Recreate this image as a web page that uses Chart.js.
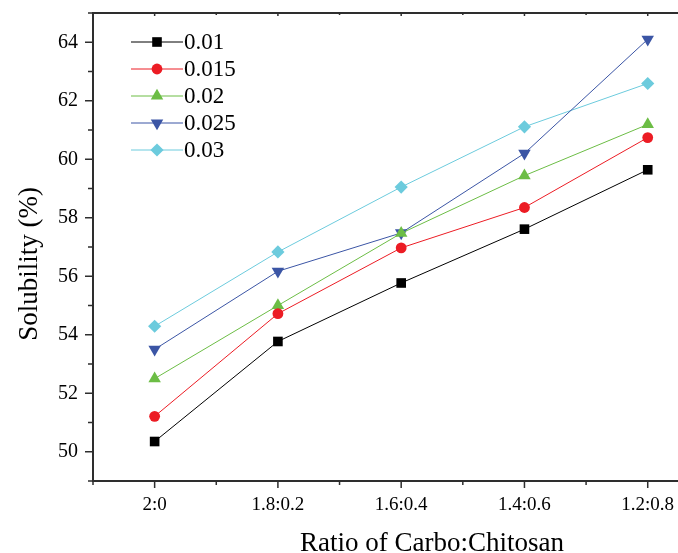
<!DOCTYPE html>
<html>
<head>
<meta charset="utf-8">
<script src="https://cdn.jsdelivr.net/npm/chart.js@4/dist/chart.umd.min.js"></script>
<style>
html, body { margin: 0; padding: 0; overflow: hidden; background: #fff; }
#wrap { width: 780px; height: 553px; }
</style>
</head>
<body>
<div id="wrap"><canvas id="solChart" width="780" height="553"></canvas></div>
<script>
// carbo:chitosan ratios along the x axis
var ratios = ['2:0', '1.8:0.2', '1.6:0.4', '1.4:0.6', '1.2:0.8'];

// solubility (%) for each concentration
var sol001 = [50.35, 53.77, 55.77, 57.61, 59.64];
var sol0015 = [51.21, 54.72, 56.97, 58.35, 60.74];
var sol002 = [52.50, 55.00, 57.47, 59.44, 61.19];
var sol0025 = [53.50, 56.17, 57.48, 60.20, 64.10];
var sol003 = [54.29, 56.83, 59.05, 61.11, 62.59];

var seriesNames = ['0.01', '0.015', '0.02', '0.025', '0.03'];
var yLabels = [50, 52, 54, 56, 58, 60, 62, 64];

var FONT = "'Liberation Serif', 'Times New Roman', serif";
var AXIS_COLOR = '#2e2e2e';

function series(label, values, color, style, radius, rotation) {
    return {
        label: label,
        data: values.map(function (v, i) { return { x: i, y: v }; }),
        borderColor: color,
        backgroundColor: color,
        borderWidth: 1,
        pointStyle: style,
        pointRadius: radius,
        pointRotation: rotation || 0,
        pointBackgroundColor: color,
        pointBorderColor: color,
        pointBorderWidth: 0,
        tension: 0
    };
}

var datasets = [
    series(seriesNames[0], sol001, '#000000', 'rect', 6.8),
    series(seriesNames[1], sol0015, '#ec1c24', 'circle', 5.4),
    series(seriesNames[2], sol002, '#6cbd45', 'triangle', 7.2),
    series(seriesNames[3], sol0025, '#3b55a5', 'triangle', 7.2, 180),
    series(seriesNames[4], sol003, '#6ccbdd', 'rectRot', 6.6)
];

// frame, tick marks, axis titles and legend
var decorPlugin = {
    id: 'decor',
    afterDraw: function (chart) {
        var ctx = chart.ctx;
        var area = chart.chartArea;
        var xs = chart.scales.x;
        var ys = chart.scales.y;
        ctx.save();

        ctx.strokeStyle = AXIS_COLOR;
        ctx.lineWidth = 2;
        ctx.beginPath();
        ctx.moveTo(area.right, area.top);
        ctx.lineTo(area.left, area.top);
        ctx.lineTo(area.left, area.bottom);
        ctx.lineTo(area.right, area.bottom);
        ctx.stroke();

        ctx.lineWidth = 1.5;
        ctx.beginPath();
        xs.ticks.forEach(function (t) {
            var px = xs.getPixelForValue(t.value);
            var major = Number.isInteger(t.value);
            ctx.moveTo(px, area.bottom);
            ctx.lineTo(px, area.bottom + (major ? 7 : 4));
            ctx.moveTo(px, area.top);
            ctx.lineTo(px, area.top + (major ? 3 : 2));
        });
        ys.ticks.forEach(function (t) {
            var py = ys.getPixelForValue(t.value);
            var major = t.value % 2 === 0;
            ctx.moveTo(area.left, py);
            ctx.lineTo(area.left - (major ? 8 : 5), py);
        });
        ctx.stroke();

        // axis titles
        ctx.fillStyle = '#000';
        ctx.font = '27px ' + FONT;
        ctx.textAlign = 'center';
        ctx.textBaseline = 'alphabetic';
        ctx.fillText('Ratio of Carbo:Chitosan', (area.left + area.right) / 2, area.bottom + 70);
        ctx.save();
        ctx.translate(30, (area.top + area.bottom) / 2 + 17);
        ctx.rotate(-Math.PI / 2);
        ctx.textBaseline = 'middle';
        ctx.fillText('Solubility (%)', 0, 0);
        ctx.restore();

        // legend
        ctx.font = '23px ' + FONT;
        ctx.textAlign = 'left';
        ctx.textBaseline = 'middle';
        chart.data.datasets.forEach(function (ds, i) {
            var x0 = area.left + 38;
            var y = area.top + 29 + i * 27;
            ctx.strokeStyle = ds.borderColor;
            ctx.lineWidth = 1;
            ctx.beginPath();
            ctx.moveTo(x0, y);
            ctx.lineTo(x0 + 52, y);
            ctx.stroke();
            ctx.fillStyle = ds.pointBackgroundColor;
            Chart.helpers.drawPoint(ctx, {
                pointStyle: ds.pointStyle,
                radius: ds.pointRadius,
                rotation: ds.pointRotation,
                borderWidth: 0
            }, x0 + 26, y);
            ctx.fillStyle = '#000';
            ctx.fillText(ds.label, x0 + 53, y + 1);
        });

        ctx.restore();
    }
};

function noScalePadding(scale) {
    scale.paddingTop = 0;
    scale.paddingBottom = 0;
    scale.paddingLeft = 0;
    scale.paddingRight = 0;
}

new Chart(document.getElementById('solChart').getContext('2d'), {
    type: 'line',
    data: { datasets: datasets },
    options: {
        responsive: false,
        animation: false,
        layout: { padding: { top: 13, right: 9, left: 0, bottom: 0 } },
        plugins: {
            legend: { display: false },
            tooltip: { enabled: false }
        },
        scales: {
            x: {
                type: 'linear',
                min: -0.5,
                max: 5,
                afterBuildTicks: function (scale) {
                    var ticks = [];
                    for (var v = -0.5; v <= 5; v += 0.5) ticks.push({ value: v });
                    scale.ticks = ticks;
                },
                afterFit: function (scale) {
                    scale.height = 72;
                    noScalePadding(scale);
                },
                grid: { display: false, drawTicks: false },
                border: { display: false },
                ticks: {
                    autoSkip: false,
                    maxRotation: 0,
                    padding: 13,
                    color: '#000',
                    font: { family: FONT, size: 19 },
                    callback: function (value) {
                        return Number.isInteger(value) && ratios[value] ? ratios[value] : '';
                    }
                }
            },
            y: {
                min: 49,
                max: 65,
                afterBuildTicks: function (scale) {
                    var ticks = [];
                    for (var v = 49; v <= 65; v++) ticks.push({ value: v });
                    scale.ticks = ticks;
                },
                afterFit: function (scale) {
                    scale.width = 93;
                    noScalePadding(scale);
                },
                grid: { display: false, drawTicks: false },
                border: { display: false },
                ticks: {
                    autoSkip: false,
                    padding: 15,
                    color: '#000',
                    font: { family: FONT, size: 20 },
                    callback: function (value) {
                        return yLabels.indexOf(value) >= 0 ? String(value) : '';
                    }
                }
            }
        }
    },
    plugins: [decorPlugin]
});
</script>
</body>
</html>
